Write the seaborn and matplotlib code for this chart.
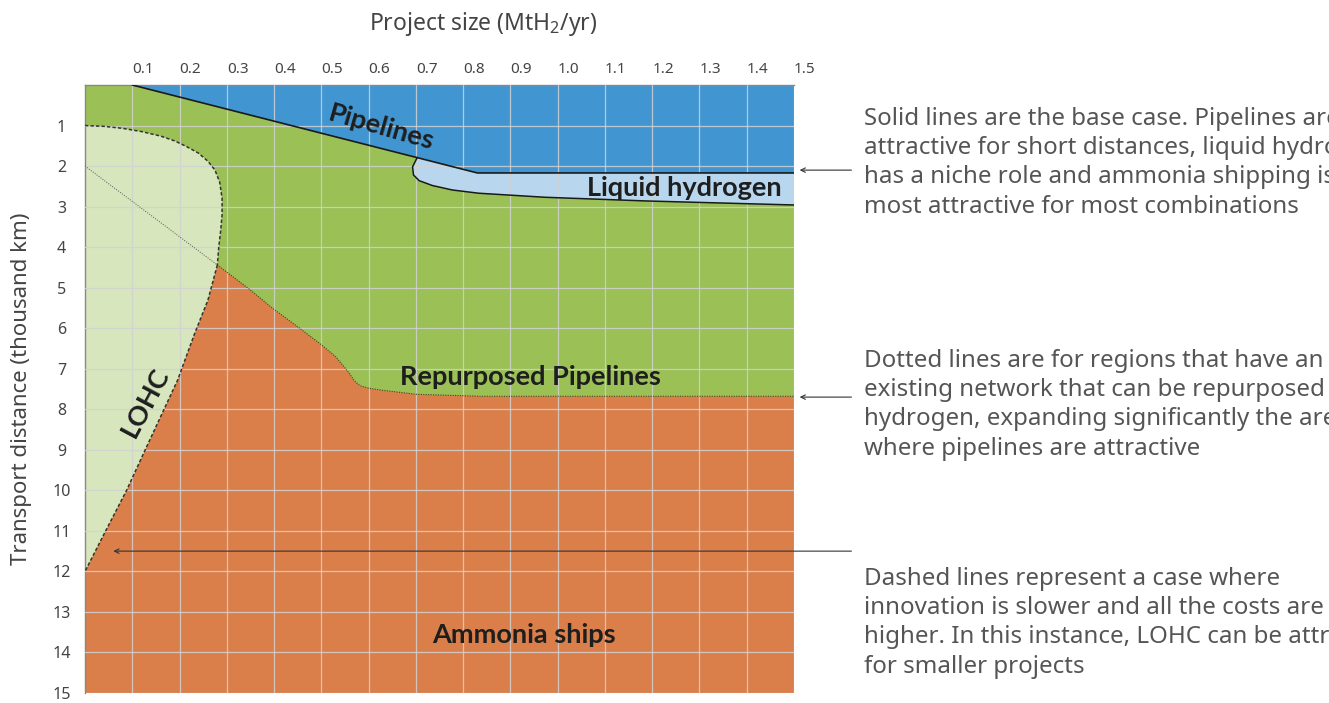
import numpy as np
import pandas as pd
import seaborn as sns
import matplotlib.pyplot as plt

# boundary curves (x = project size MtH2/yr, y = distance thousand km)
pipe_x = [0.1, 0.83, 1.5]
pipe_y = [0.0, 2.17, 2.17]

lh_low_x = [0.703, 0.693, 0.695, 0.707, 0.735, 0.777, 0.833, 0.974, 1.185, 1.5]
lh_low_y = [1.786, 2.02, 2.22, 2.36, 2.48, 2.59, 2.67, 2.77, 2.86, 2.96]

repurp_x = [0.28, 0.348, 0.397, 0.454, 0.496, 0.531, 0.559, 0.570, 0.582, 0.600, 0.629, 0.700, 0.840, 1.5]
repurp_y = [4.44, 5.04, 5.51, 6.00, 6.37, 6.71, 7.11, 7.30, 7.42, 7.48, 7.53, 7.63, 7.68, 7.68]

lohc_top_x = [0.0, 0.04, 0.08, 0.12, 0.16, 0.19, 0.215, 0.24, 0.26, 0.275, 0.285, 0.29, 0.29, 0.287, 0.283, 0.28]
lohc_top_y = [1.0, 1.02, 1.07, 1.15, 1.26, 1.38, 1.52, 1.68, 1.88, 2.10, 2.40, 2.80, 3.20, 3.60, 4.00, 4.44]

lohc_low_x = [0.28, 0.26, 0.232, 0.196, 0.127, 0.088, 0.042, 0.0]
lohc_low_y = [4.44, 5.31, 6.13, 7.28, 9.01, 10.0, 11.04, 12.0]

repurp_lohc_x = [0.0, 0.28]
repurp_lohc_y = [2.0, 4.44]

x_ticks = [round(0.1 * i, 1) for i in range(1, 16)]
y_ticks = list(range(1, 16))

labels = ["Pipelines", "Liquid hydrogen", "Repurposed Pipelines", "Ammonia ships", "LOHC"]
label_x = [0.627, 1.268, 0.943, 0.928, 0.127]
label_y = [1.04, 2.54, 7.21, 13.58, 7.83]
label_rot = [-16, 0, 0, 0, 62]

notes = [
    "Solid lines are the base case. Pipelines are\nattractive for short distances, liquid hydrogen\nhas a niche role and ammonia shipping is the\nmost attractive for most combinations",
    "Dotted lines are for regions that have an\nexisting network that can be repurposed for\nhydrogen, expanding significantly the area\nwhere pipelines are attractive",
    "Dashed lines represent a case where\ninnovation is slower and all the costs are\nhigher. In this instance, LOHC can be attractive\nfor smaller projects",
]
note_top_px = [107, 349, 567]
arrow_y = [2.10, 7.70, 11.5]
arrow_tip = [1.008, 1.008, 0.04]

c_blue = "#4196d2"
c_lblue = "#b8d7ef"
c_green = "#9ac056"
c_lgreen = "#d7e6bd"
c_orange = "#da7f4a"

sns.set_style("white")
plt.rcParams["font.family"] = ["Noto Sans", "DejaVu Sans"]
plt.rcParams["mathtext.default"] = "regular"

fig = plt.figure(figsize=(13.29, 7.03), dpi=100)
ax = fig.add_axes([85 / 1329, 1 - 693 / 703, 709 / 1329, 608 / 703])
ax.set_xlim(0, 1.5)
ax.set_ylim(15, 0)
ax.set_facecolor(c_green)

# regions
ax.fill(pipe_x + [1.5], pipe_y + [0.0], color=c_blue, lw=0, zorder=1)
lh_top_x = [0.703, 0.83, 1.5]
lh_top_y = [1.786, 2.17, 2.17]
ax.fill(lh_top_x + lh_low_x[::-1], lh_top_y + lh_low_y[::-1], color=c_lblue, lw=0, zorder=1)
ax.fill(repurp_x + [1.5, 0.0] + lohc_low_x[::-1],
        repurp_y + [15, 15] + lohc_low_y[::-1], color=c_orange, lw=0, zorder=1)
ax.fill(lohc_top_x + lohc_low_x[1:], lohc_top_y + lohc_low_y[1:], color=c_lgreen, lw=0, zorder=1)

# grid
ax.set_xticks(x_ticks)
ax.set_yticks(y_ticks)
ax.grid(True, color="#d2d2d2", lw=0.9, alpha=0.85, zorder=2)
ax.set_axisbelow(False)

# boundary lines
sns.lineplot(x=pipe_x, y=pipe_y, sort=False, estimator=None, color="#1a1a1a", lw=1.2, ax=ax, zorder=3)
sns.lineplot(x=lh_low_x, y=lh_low_y, sort=False, estimator=None, color="#1a1a1a", lw=1.1, ax=ax, zorder=3)
sns.lineplot(x=repurp_x, y=repurp_y, sort=False, estimator=None, color="#3a4a20", lw=0.8,
             linestyle=(0, (1, 1.2)), ax=ax, zorder=3)
sns.lineplot(x=repurp_lohc_x, y=repurp_lohc_y, sort=False, estimator=None, color="#555555", lw=0.7,
             linestyle=(0, (1, 1.5)), ax=ax, zorder=3)
sns.lineplot(x=lohc_top_x, y=lohc_top_y, sort=False, estimator=None, color="#333333", lw=1.1,
             linestyle=(0, (2.2, 1.4)), ax=ax, zorder=3)
sns.lineplot(x=lohc_low_x, y=lohc_low_y, sort=False, estimator=None, color="#333333", lw=1.1,
             linestyle=(0, (2.2, 1.4)), ax=ax, zorder=3)

# region labels
for t, x, y, r in zip(labels, label_x, label_y, label_rot):
    ax.text(x, y, t, rotation=r, ha="center", va="center", fontsize=19.5,
            family=["Lato", "DejaVu Sans"], fontweight="bold", color="#1e1e1e",
            zorder=5, rotation_mode="anchor")

# axes styling
ax.xaxis.tick_top()
ax.tick_params(axis="both", length=0, labelcolor="#444444")
ax.tick_params(axis="x", pad=6, labelsize=11)
ax.tick_params(axis="y", pad=17, labelsize=11.5)
for lab in ax.get_xticklabels():
    lab.set_ha("left")
for lab in ax.get_yticklabels():
    lab.set_ha("center")
for s in ["right", "bottom"]:
    ax.spines[s].set_visible(False)
for s in ["left", "top"]:
    ax.spines[s].set_color("#888888")
    ax.spines[s].set_linewidth(1)

ax.set_xlabel("")
ax.set_ylabel("")
ax.text(0.5615, 1.10, "Project size (MtH$_2$/yr)", transform=ax.transAxes, ha="center", va="center",
        fontsize=16.5, color="#444444")
ax.text(-0.089, 0.5, "Transport distance (thousand km)", transform=ax.transAxes, rotation=90,
        ha="center", va="center", fontsize=16, color="#444444")

# notes and arrows
for txt, top in zip(notes, note_top_px):
    fig.text(864 / 1329, 1 - top / 703, txt, ha="left", va="top", fontsize=17.35,
             color="#555555", linespacing=1.29)
for y, tip in zip(arrow_y, arrow_tip):
    ax.annotate("", xy=(tip, y), xycoords=("axes fraction", "data"),
                xytext=(1.081, y), textcoords=("axes fraction", "data"),
                arrowprops=dict(arrowstyle="->", color="#333333", lw=0.8, shrinkA=0, shrinkB=0,
                                mutation_scale=8),
                annotation_clip=False, zorder=6)

fig.savefig("out.png", dpi=100)
